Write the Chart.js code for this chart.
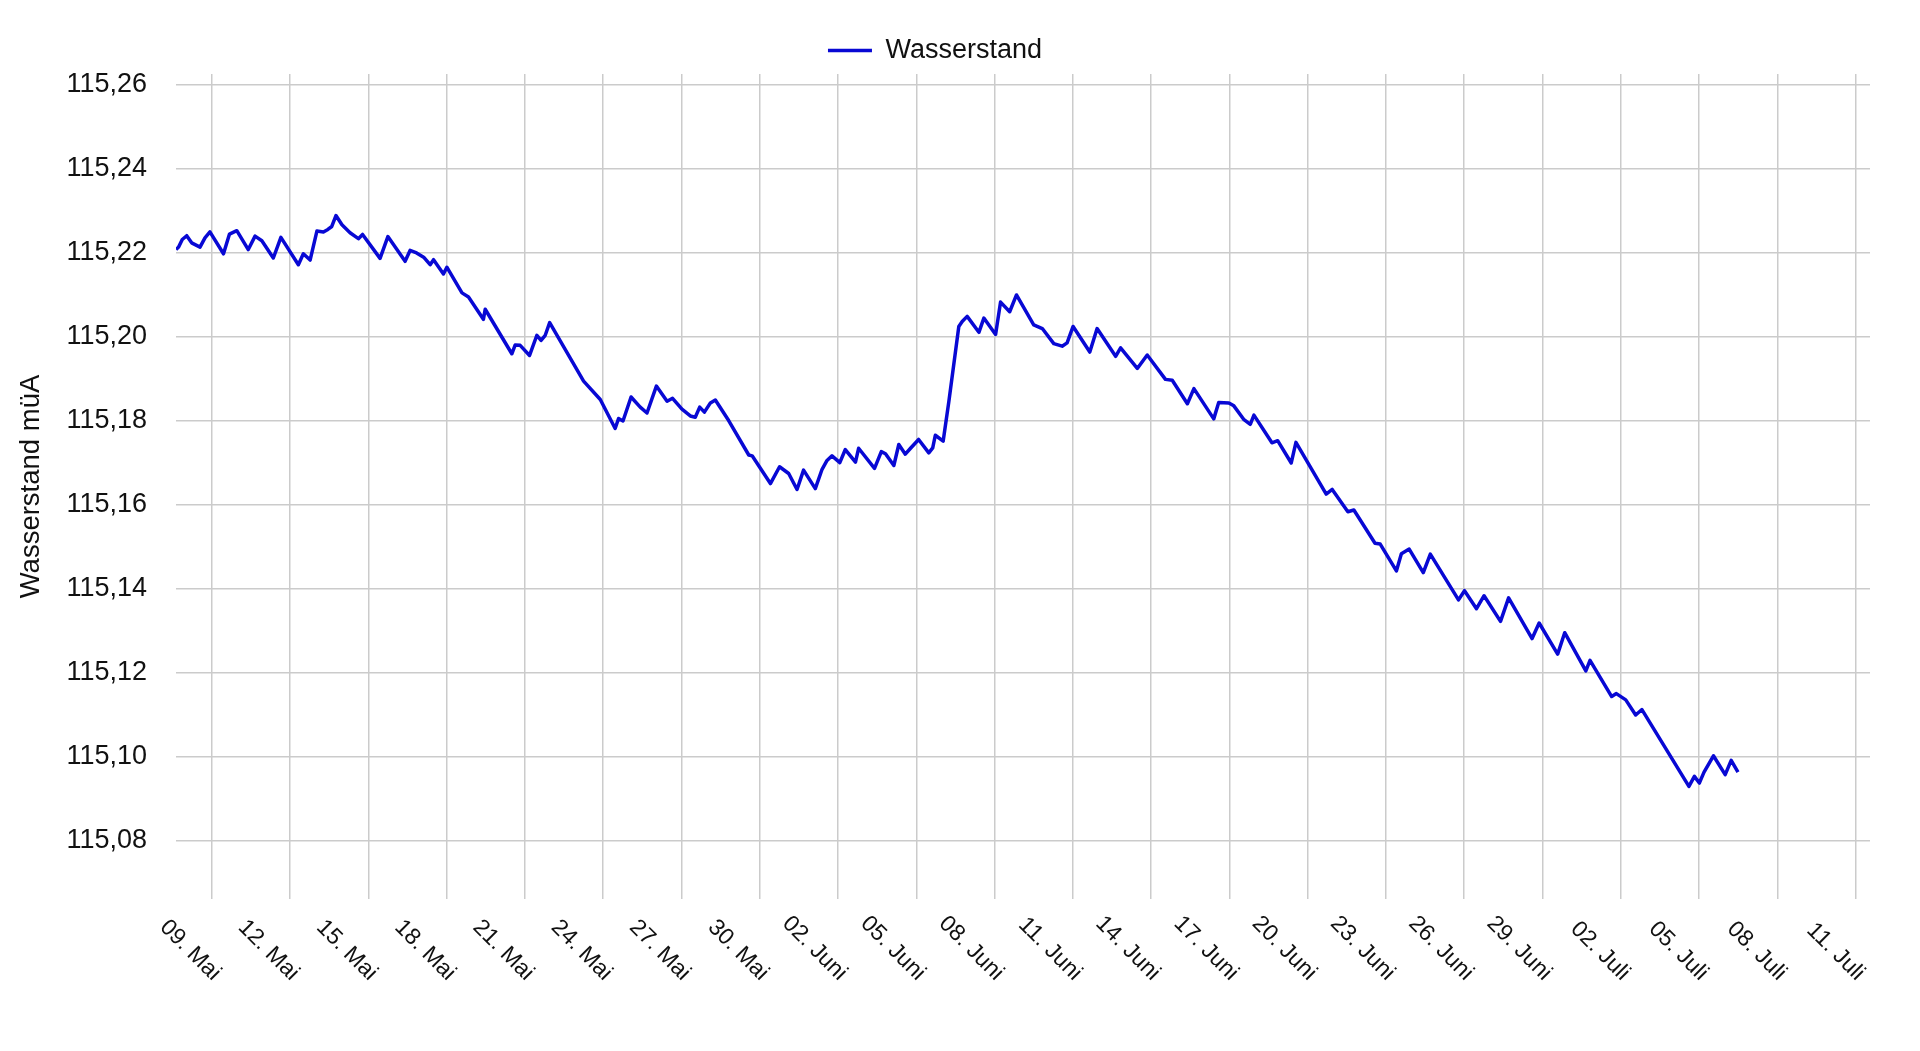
<!DOCTYPE html>
<html lang="de">
<head>
<meta charset="utf-8" />
<title>Wasserstand</title>
<style>
  html, body { margin: 0; padding: 0; background: #fff; }
  #chartBox { width: 1920px; height: 1051px; }
</style>
</head>
<body>
<div id="chartBox"><canvas id="pegelChart"></canvas></div>

<script src="https://cdn.jsdelivr.net/npm/chart.js"></script>
<script>
// Tage seit 09. Mai 00:00
const dayOffsets = [
  -1.37, -1.27, -1.13, -0.96, -0.77, -0.45, -0.26, -0.07, 0.45, 0.68,
  0.96, 1.40, 1.66, 1.92, 2.36, 2.65, 3.32, 3.51, 3.77, 4.03,
  4.28, 4.45, 4.60, 4.76, 4.99, 5.30, 5.62, 5.78, 6.45, 6.75,
  7.41, 7.60, 7.85, 8.12, 8.37, 8.50, 8.88, 9.01, 9.59, 9.84,
  10.41, 10.48, 11.50, 11.63, 11.82, 12.18, 12.46, 12.62, 12.78, 12.95,
  14.25, 14.89, 15.46, 15.59, 15.76, 16.07, 16.42, 16.68, 17.04, 17.45,
  17.66, 18.02, 18.34, 18.53, 18.70, 18.88, 19.11, 19.30, 19.81, 20.58,
  20.71, 21.41, 21.76, 22.11, 22.43, 22.68, 23.13, 23.39, 23.58, 23.77,
  24.07, 24.28, 24.67, 24.79, 25.40, 25.66, 25.82, 26.14, 26.33, 26.58,
  26.78, 27.09, 27.48, 27.63, 27.73, 28.03, 28.25, 28.63, 28.76, 28.95,
  29.40, 29.59, 30.04, 30.23, 30.58, 30.84, 31.50, 31.83, 32.27, 32.59,
  32.78, 33.01, 33.65, 33.93, 34.64, 34.83, 35.47, 35.85, 36.55, 36.81,
  37.39, 37.64, 38.40, 38.59, 38.98, 39.17, 39.56, 39.80, 39.94, 40.63,
  40.85, 41.37, 41.55, 42.71, 42.94, 43.54, 43.77, 44.58, 44.78, 45.40,
  45.59, 45.89, 46.43, 46.70, 47.78, 48.01, 48.47, 48.76, 49.39, 49.70,
  50.60, 50.87, 51.58, 51.85, 52.66, 52.82, 53.65, 53.83, 54.19, 54.57,
  54.81, 56.61, 56.82, 57.01, 57.19, 57.55, 58.00, 58.23, 58.49
];

// Wasserstand in m ü. A.
const wasserstand = [
  115.2208, 115.2214, 115.2232, 115.2241, 115.2224, 115.2214, 115.2236, 115.2250, 115.2198, 115.2245,
  115.2253, 115.2208, 115.2240, 115.2229, 115.2188, 115.2237, 115.2172, 115.2198, 115.2183, 115.2252,
  115.2250, 115.2256, 115.2263, 115.2289, 115.2267, 115.2248, 115.2234, 115.2244, 115.2187, 115.2239,
  115.2180, 115.2206, 115.2200, 115.2190, 115.2172, 115.2184, 115.2150, 115.2166, 115.2105, 115.2095,
  115.2042, 115.2066, 115.1960, 115.1981, 115.1980, 115.1956, 115.2004, 115.1992, 115.2004, 115.2034,
  115.1895, 115.1851, 115.1782, 115.1806, 115.1800, 115.1857, 115.1833, 115.1819, 115.1883, 115.1847,
  115.1854, 115.1828, 115.1812, 115.1809, 115.1833, 115.1821, 115.1843, 115.1850, 115.1801, 115.1719,
  115.1717, 115.1651, 115.1691, 115.1675, 115.1637, 115.1683, 115.1639, 115.1685, 115.1706, 115.1717,
  115.1701, 115.1732, 115.1702, 115.1735, 115.1687, 115.1727, 115.1722, 115.1694, 115.1744, 115.1721,
  115.1735, 115.1756, 115.1724, 115.1736, 115.1766, 115.1752, 115.1847, 115.2025, 115.2037, 115.2049,
  115.2011, 115.2045, 115.2006, 115.2083, 115.2060, 115.2100, 115.2029, 115.2020, 115.1984, 115.1978,
  115.1986, 115.2025, 115.1964, 115.2020, 115.1954, 115.1974, 115.1925, 115.1957, 115.1899, 115.1897,
  115.1841, 115.1877, 115.1805, 115.1844, 115.1843, 115.1836, 115.1803, 115.1792, 115.1814, 115.1748,
  115.1753, 115.1700, 115.1749, 115.1626, 115.1637, 115.1584, 115.1588, 115.1509, 115.1507, 115.1443,
  115.1484, 115.1495, 115.1439, 115.1483, 115.1374, 115.1396, 115.1353, 115.1384, 115.1323, 115.1379,
  115.1282, 115.1319, 115.1245, 115.1296, 115.1205, 115.1230, 115.1144, 115.1151, 115.1136, 115.1100,
  115.1113, 115.0930, 115.0954, 115.0938, 115.0964, 115.1003, 115.0958, 115.0992, 115.0964
];

const monthNames = ["Jan", "Feb", "März", "Apr", "Mai", "Juni", "Juli", "Aug", "Sep", "Okt", "Nov", "Dez"];
const startDate = Date.UTC(2023, 4, 9); // 09. Mai = Tag 0
const tickStepDays = 3;

// "09. Mai"
function formatDay(value) {
  const d = new Date(startDate + Math.round(value * 86400000));
  const day = String(d.getUTCDate()).padStart(2, "0");
  return day + ". " + monthNames[d.getUTCMonth()];
}

const fontFamily = '"Liberation Sans", Arial, sans-serif';
const textColor = "#111";
Chart.defaults.font.family = fontFamily;
Chart.defaults.color = textColor;

// x labels slant down to the right, so they are drawn by hand
const rotatedDateLabels = {
  id: "rotatedDateLabels",
  afterDraw(chart) {
    const { ctx, scales: { x } } = chart;
    ctx.save();
    ctx.font = "23px " + fontFamily;
    ctx.fillStyle = textColor;
    ctx.textAlign = "right";
    ctx.textBaseline = "middle";
    x.ticks.forEach((tick) => {
      const px = x.getPixelForValue(tick.value);
      ctx.save();
      ctx.translate(px + 5, x.top + 78);
      ctx.rotate(Math.PI / 4);
      ctx.fillText(formatDay(tick.value), 0, 0);
      ctx.restore();
    });
    ctx.restore();
  },
};

const points = dayOffsets.map((d, i) => ({ x: d, y: wasserstand[i] }));

const config = {
  type: "line",
  data: {
    datasets: [
      {
        label: "Wasserstand",
        data: points,
        borderColor: "rgb(8, 8, 212)",
        backgroundColor: "rgb(8, 8, 212)",
        borderWidth: 3.5,
        borderJoinStyle: "round",
        pointRadius: 0,
        tension: 0,
        fill: false,
      },
    ],
  },
  options: {
    responsive: true,
    maintainAspectRatio: false,
    animation: false,
    layout: { padding: { left: 0, right: 50, top: 0, bottom: 0 } },
    plugins: {
      legend: {
        position: "top",
        labels: {
          usePointStyle: true,
          pointStyle: "line",
          pointStyleWidth: 44,
          padding: 37,
          color: textColor,
          font: { size: 27 },
        },
      },
      tooltip: { enabled: false },
    },
    scales: {
      x: {
        type: "linear",
        min: -1.37,
        max: 63.55,
        afterFit(scale) {
          scale.height = 152;
        },
        ticks: {
          display: false,
          stepSize: tickStepDays,
          includeBounds: false,
          autoSkip: false,
        },
        grid: { color: "#cbcbcb", lineWidth: 1.5, drawTicks: false },
        border: { display: false },
      },
      y: {
        min: 115.0662,
        max: 115.2626,
        afterFit(scale) {
          scale.width = 176;
        },
        ticks: {
          stepSize: 0.02,
          includeBounds: false,
          padding: 29,
          color: textColor,
          font: { size: 27 },
          callback: (v) => v.toFixed(2).replace(".", ","),
        },
        title: {
          display: true,
          text: "Wasserstand müA",
          color: textColor,
          font: { size: 27.5 },
          padding: { top: 15, bottom: 0 },
        },
        grid: { color: "#cbcbcb", lineWidth: 1.5, drawTicks: false },
        border: { display: false },
      },
    },
  },
  plugins: [rotatedDateLabels],
};

const pegelChart = new Chart(document.getElementById("pegelChart"), config);
</script>
</body>
</html>
